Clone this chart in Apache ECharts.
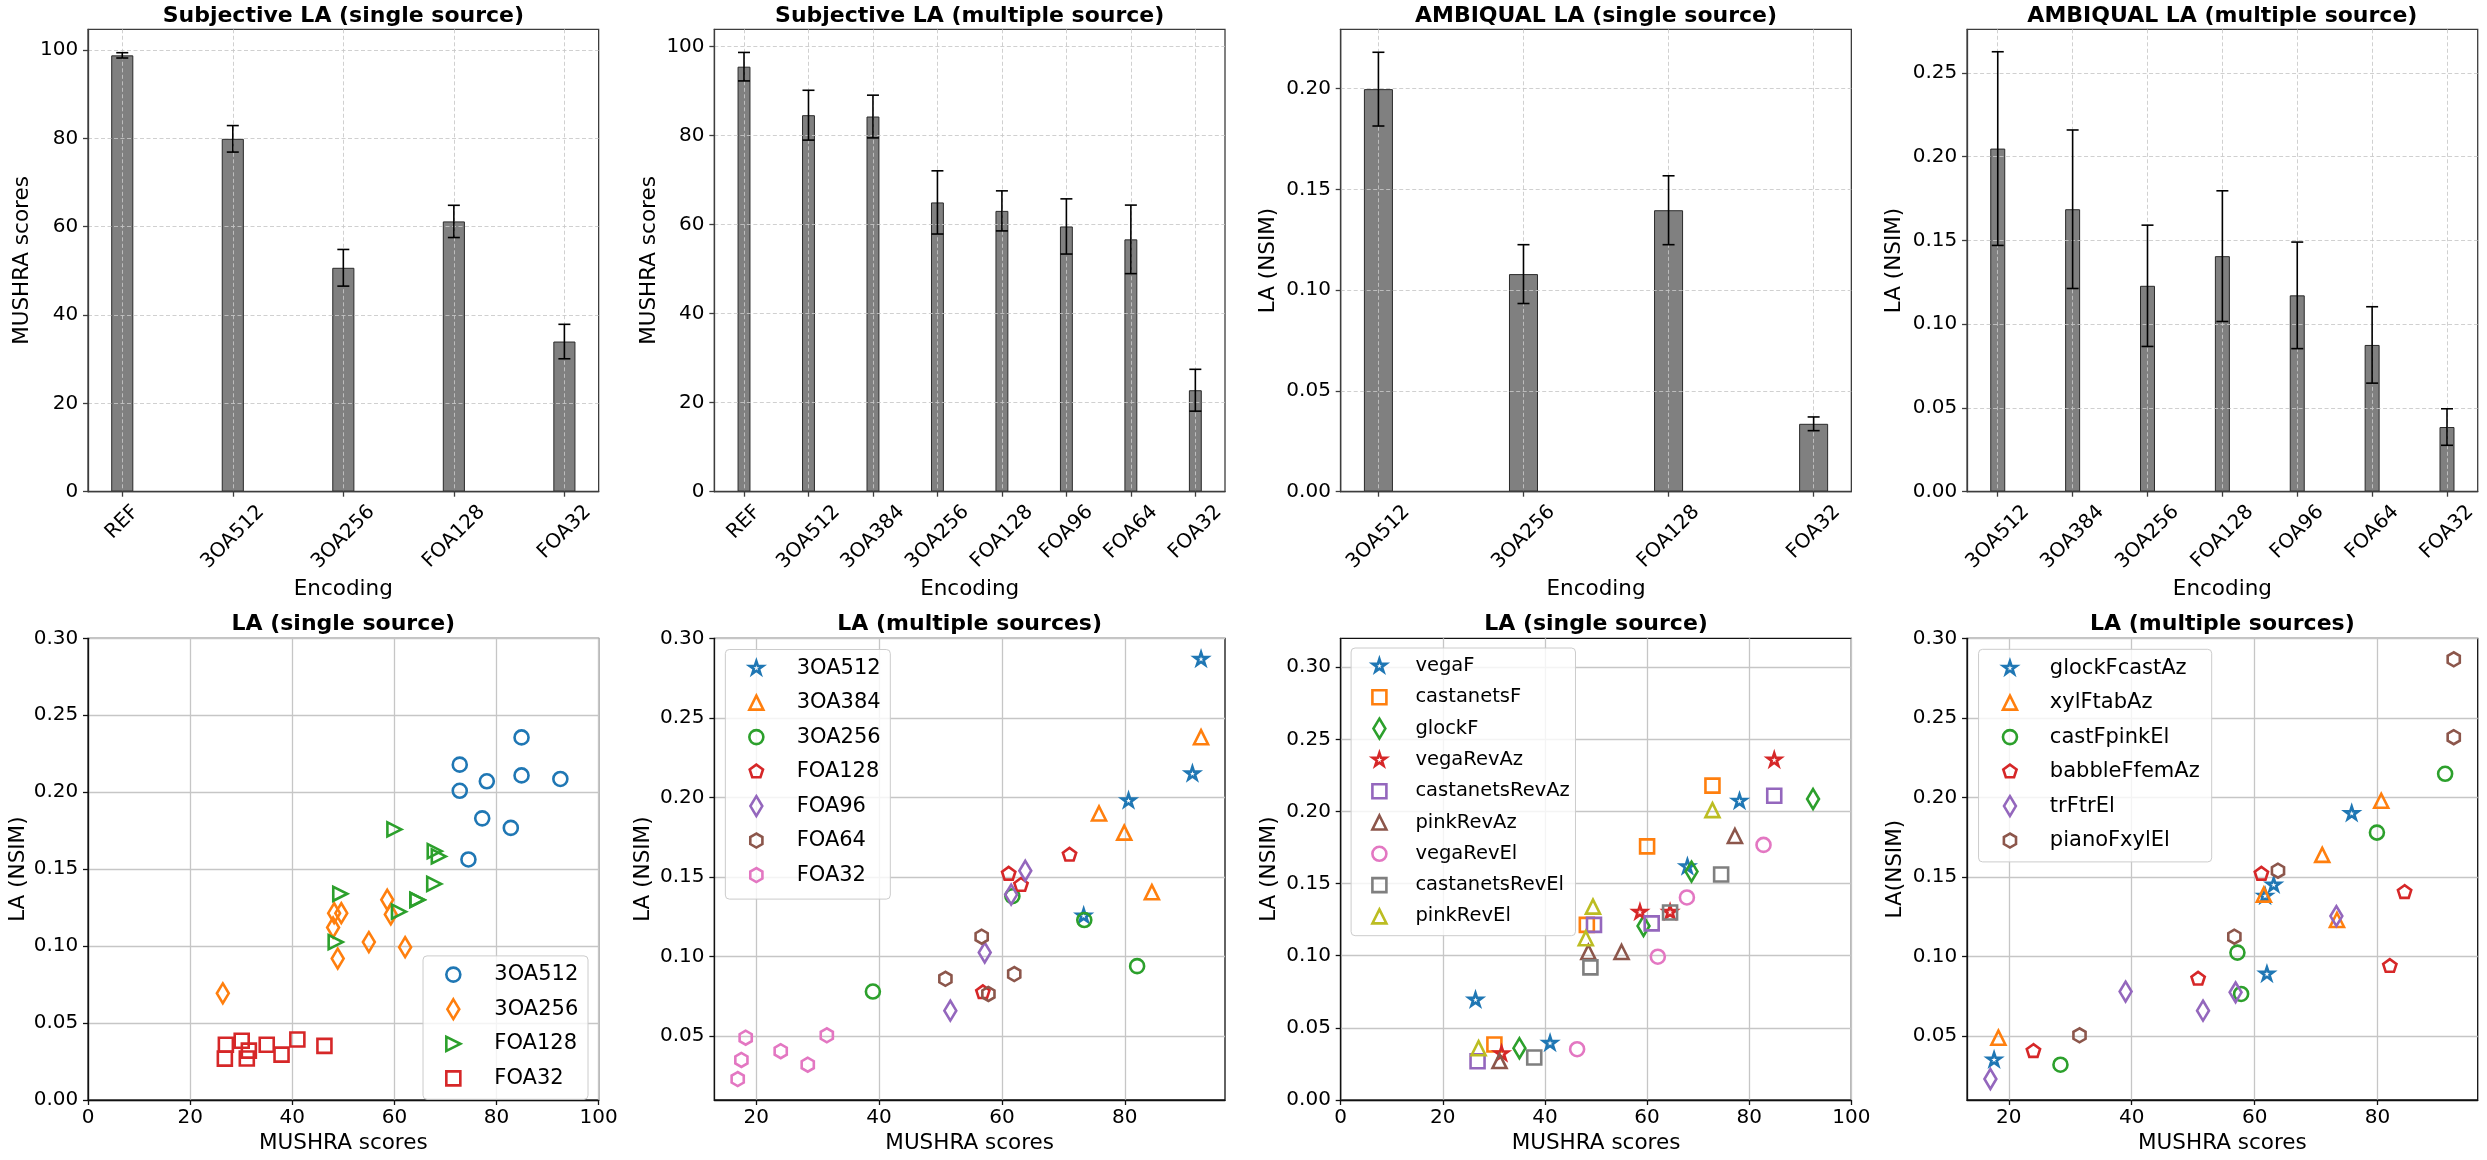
<!DOCTYPE html>
<html><head><meta charset="utf-8">
<script src="https://cdn.jsdelivr.net/npm/echarts@6/dist/echarts.min.js"></script>
<style>html,body{margin:0;padding:0;background:#fff}#c{width:2487px;height:1160px}</style>
</head><body><div id="c"></div>
<script>
// ================= DATA =================
// Top row: subjective (MUSHRA) bar charts
const subjSingleCats = ['REF', '3OA512', '3OA256', 'FOA128', 'FOA32'];
const subjSingleMean = [98.8, 79.9, 50.7, 61.2, 34.0];
const subjSingleErr  = [0.6, 3.0, 4.15, 3.65, 3.9];

const subjMultiCats = ['REF', '3OA512', '3OA384', '3OA256', 'FOA128', 'FOA96', 'FOA64', 'FOA32'];
const subjMultiMean = [95.5, 84.6, 84.3, 65.0, 63.1, 59.6, 56.7, 22.8];
const subjMultiErr  = [3.2, 5.6, 4.8, 7.1, 4.5, 6.2, 7.7, 4.7];

// Top row: AMBIQUAL (NSIM) bar charts
const ambSingleCats = ['3OA512', '3OA256', 'FOA128', 'FOA32'];
const ambSingleMean = [0.1998, 0.1080, 0.1397, 0.0337];
const ambSingleErr  = [0.0183, 0.0146, 0.0171, 0.0034];

const ambMultiCats = ['3OA512', '3OA384', '3OA256', 'FOA128', 'FOA96', 'FOA64', 'FOA32'];
const ambMultiMean = [0.2048, 0.1686, 0.1229, 0.1406, 0.1172, 0.0876, 0.0386];
const ambMultiErr  = [0.0578, 0.0473, 0.0362, 0.0390, 0.0318, 0.0228, 0.0109];

// Bottom row: single source scatter (rows = sources, columns = ambSingleCats)
const singleSources = ['vegaF', 'castanetsF', 'glockF', 'vegaRevAz', 'castanetsRevAz', 'pinkRevAz', 'vegaRevEl', 'castanetsRevEl', 'pinkRevEl'];
const singleMushra = [
  [78.1, 26.4, 67.9, 41.0],
  [72.8, 48.2, 60.0, 30.1],
  [92.5, 59.3, 68.7, 35.0],
  [84.9, 58.6, 64.5, 31.5],
  [84.9, 49.6, 60.9, 26.8],
  [77.2, 55.0, 48.5, 31.1],
  [82.8, 62.1, 67.8, 46.3],
  [74.5, 48.9, 64.5, 37.9],
  [72.8, 48.0, 49.4, 27.0]
];
const singleNsim = [
  [0.2071, 0.0693, 0.1617, 0.0393],
  [0.2179, 0.1214, 0.1758, 0.0385],
  [0.2086, 0.1206, 0.1583, 0.0359],
  [0.2356, 0.1301, 0.1301, 0.0321],
  [0.2109, 0.1214, 0.1224, 0.0269],
  [0.1830, 0.1026, 0.1026, 0.0270],
  [0.1768, 0.0993, 0.1404, 0.0352],
  [0.1563, 0.0919, 0.1300, 0.0295],
  [0.2009, 0.1121, 0.1340, 0.0359]
];

// Bottom row: multiple source scatter (rows = sources, columns = ambMultiCats)
const multiSources = ['glockFcastAz', 'xylFtabAz', 'castFpinkEl', 'babbleFfemAz', 'trFtrEl', 'pianoFxylEl'];
const multiMushra = [
  [null, 75.8, 61.7, 63.1, null, 62.0, 17.6],
  [80.6, null, 73.4, 71.0, 61.5, null, 18.3],
  [91.0, 79.9, null, null, 57.2, 57.8, 28.4],
  [null, 84.4, 82.0, 61.1, null, 50.8, 24.0],
  [73.3, null, 39.0, 56.9, 51.6, null, 17.0],
  [92.4, 92.4, null, null, 63.8, 56.7, 31.5]
];
const multiNsim = [
  [null, 0.190, 0.138, 0.145, null, 0.089, 0.035],
  [0.198, null, 0.123, 0.164, 0.139, null, 0.049],
  [0.215, 0.178, null, null, 0.1025, 0.0765, 0.032],
  [null, 0.1405, 0.094, 0.152, null, 0.086, 0.0405],
  [0.1255, null, 0.078, 0.0775, 0.066, null, 0.023],
  [0.287, 0.238, null, null, 0.154, 0.1125, 0.0505]
];

// Tick labels
const ticksMushra = [0, 20, 40, 60, 80, 100];
const ticksNsim20 = [0, 0.05, 0.10, 0.15, 0.20];
const ticksNsim25 = [0, 0.05, 0.10, 0.15, 0.20, 0.25];
const ticksNsim30 = [0, 0.05, 0.10, 0.15, 0.20, 0.25, 0.30];
const ticksNsim30b = [0.05, 0.10, 0.15, 0.20, 0.25, 0.30];
const ticksScore100 = [0, 20, 40, 60, 80, 100];
const ticksScore80 = [20, 40, 60, 80];

// ================= STYLE / LAYOUT =================
const FONT = 'DejaVu Sans';
const TAB = ['#1f77b4', '#ff7f0e', '#2ca02c', '#d62728', '#9467bd', '#8c564b', '#e377c2', '#7f7f7f', '#bcbd22'];
const COLS = [88, 714.35, 1340.7, 1967.05];
const GW = 510.65;
const ROWS = [29.3, 638.3];
const GH = [462.4, 461.7];

// marker paths (common 22px frame so legend icons keep the same scale)
const FR = 'M -11 -11 M 11 11 ';
function polyPath(pts) {
  return FR + pts.map((p, i) => (i ? 'L ' : 'M ') + p[0].toFixed(3) + ' ' + p[1].toFixed(3)).join(' ') + ' Z';
}
function regular(n, r, r2) {
  const k = r2 ? 2 * n : n, pts = [];
  for (let i = 0; i < k; i++) {
    const a = Math.PI / 2 + i * 2 * Math.PI / k;
    const rr = (r2 && i % 2) ? r2 : r;
    pts.push([rr * Math.cos(a), -rr * Math.sin(a)]);
  }
  return polyPath(pts);
}
const R = 7;
const SYM = {
  'o': 'path://' + FR + `M ${R} 0 A ${R} ${R} 0 1 1 ${-R} 0 A ${R} ${R} 0 1 1 ${R} 0 Z`,
  's': 'path://' + polyPath([[-R, -R], [R, -R], [R, R], [-R, R]]),
  'd': 'path://' + polyPath([[0, -R * 1.414], [R * 0.849, 0], [0, R * 1.414], [-R * 0.849, 0]]),
  '^': 'path://' + polyPath([[0, -R], [R, R], [-R, R]]),
  '>': 'path://' + polyPath([[R, 0], [-R, R], [-R, -R]]),
  '*': 'path://' + regular(5, R, R * 0.381966),
  'p': 'path://' + regular(5, R),
  'h': 'path://' + regular(6, R)
};

const mctx = document.createElement('canvas').getContext('2d');
mctx.font = '20px "DejaVu Sans"';

const grids = [], xAxes = [], yAxes = [], series = [], titles = [], legends = [];

function addGrid(col, row) {
  const gi = grids.length;
  grids.push({left: COLS[col], top: ROWS[row], width: GW, height: GH[row], show: true,
    borderColor: row ? '#111' : '#3d3d3d', borderWidth: 1.3, backgroundColor: 'rgba(0,0,0,0)',
    containLabel: false, outerBoundsMode: 'none'});
  return gi;
}
function addTitle(col, row, text) {
  titles.push({text: text, left: COLS[col] + GW / 2, top: row ? 613.4 : 5.7, textAlign: 'center', padding: 0,
    textStyle: {fontSize: 22, fontWeight: 'bold', fontFamily: FONT, color: '#000'}});
}
const nameStyle = {fontSize: 21.5, fontFamily: FONT, color: '#000'};
const tickLbl = {fontSize: 20, fontFamily: FONT, color: '#000'};

function barPanel(col, cats, means, errs, xMin, xMax, yMax, yTicks, yDec, title, yName, yGap) {
  const gi = addGrid(col, 0);
  addTitle(col, 0, title);
  const frame = '#3d3d3d';
  const idx = cats.map((c, i) => i);
  const dash = {show: true, lineStyle: {color: 'rgba(200,200,200,0.85)', width: 1, type: [4, 2.5]}};
  xAxes.push({type: 'value', gridIndex: gi, min: xMin, max: xMax, z: 3,
    axisLine: {show: true, onZero: false, lineStyle: {color: frame, width: 1.3}},
    axisTick: {show: true, length: 5, customValues: idx, lineStyle: {color: frame, width: 1.3}},
    axisLabel: {show: false, customValues: idx},
    splitLine: dash,
    name: 'Encoding', nameLocation: 'middle', nameGap: 87, nameTextStyle: nameStyle});
  yAxes.push({type: 'value', gridIndex: gi, min: 0, max: yMax, z: 3,
    axisLine: {show: true, onZero: false, lineStyle: {color: frame, width: 1.3}},
    axisTick: {show: true, length: 5, customValues: yTicks, lineStyle: {color: frame, width: 1.3}},
    axisLabel: Object.assign({customValues: yTicks, margin: 9.8, formatter: v => (+v).toFixed(yDec)}, tickLbl),
    splitLine: dash,
    name: yName, nameLocation: 'middle', nameGap: yGap, nameTextStyle: nameStyle});
  const bw = 0.2 * GW / (xMax - xMin);
  series.push({type: 'bar', name: 'bars' + gi, xAxisIndex: gi, yAxisIndex: gi, barWidth: bw, silent: true,
    data: means.map((v, i) => [i, v]),
    itemStyle: {color: '#808080', borderColor: '#2a2a2a', borderWidth: 1}, z: 2});
  series.push({type: 'custom', name: 'err' + gi, xAxisIndex: gi, yAxisIndex: gi, silent: true, z: 4,
    data: means.map((v, i) => [i, v - errs[i], v + errs[i]]),
    encode: {x: 0, y: [1, 2]},
    renderItem: function (params, api) {
      const x = api.value(0);
      const lo = api.coord([x, api.value(1)]), hi = api.coord([x, api.value(2)]);
      const c = 6, st = {stroke: '#000', lineWidth: 1.6};
      return {type: 'group', children: [
        {type: 'line', shape: {x1: lo[0], y1: lo[1], x2: hi[0], y2: hi[1]}, style: st},
        {type: 'line', shape: {x1: lo[0] - c, y1: lo[1], x2: lo[0] + c, y2: lo[1]}, style: st},
        {type: 'line', shape: {x1: hi[0] - c, y1: hi[1], x2: hi[0] + c, y2: hi[1]}, style: st}
      ]};
    }});
  // rotated category labels (matplotlib style: rotated bbox centred under the tick)
  series.push({type: 'custom', name: 'lbl' + gi, xAxisIndex: gi, yAxisIndex: gi, silent: true, clip: false, z: 5,
    data: cats.map((c, i) => [i, 0]),
    encode: {x: 0, y: 1},
    renderItem: function (params, api) {
      const i = api.value(0);
      const p = api.coord([i, 0]);
      const t = cats[i];
      const w = mctx.measureText(t).width;
      return {type: 'text', x: p[0], y: p[1] + 12 + (w + 14.6) * 0.3536, rotation: Math.PI / 4,
        style: {text: t, fontSize: 20, fontFamily: FONT, fill: '#000', align: 'center', verticalAlign: 'middle'}};
    }});
}

function scatterPanel(col, xMin, xMax, yMin, yMax, xTicks, yTicks, title, yName, yGap) {
  const gi = addGrid(col, 1);
  addTitle(col, 1, title);
  const solid = {show: true, lineStyle: {color: '#c6c6c6', width: 1.3}};
  xAxes.push({type: 'value', gridIndex: gi, min: xMin, max: xMax,
    axisLine: {show: true, onZero: false, lineStyle: {color: '#111', width: 1.3}},
    axisTick: {show: true, length: 5, customValues: xTicks, lineStyle: {color: '#111', width: 1.3}},
    axisLabel: Object.assign({customValues: xTicks, margin: 7.7, formatter: v => String(Math.round(v))}, tickLbl),
    splitLine: solid,
    name: 'MUSHRA scores', nameLocation: 'middle', nameGap: 32, nameTextStyle: nameStyle});
  yAxes.push({type: 'value', gridIndex: gi, min: yMin, max: yMax,
    axisLine: {show: true, onZero: false, lineStyle: {color: '#111', width: 1.3}},
    axisTick: {show: true, length: 5, customValues: yTicks, lineStyle: {color: '#111', width: 1.3}},
    axisLabel: Object.assign({customValues: yTicks, margin: 9.8, formatter: v => (+v).toFixed(2)}, tickLbl),
    splitLine: solid,
    name: yName, nameLocation: 'middle', nameGap: yGap, nameTextStyle: nameStyle});
  return gi;
}
function addScatter(gi, name, pts, sym, color) {
  series.push({type: 'scatter', name: name, xAxisIndex: gi, yAxisIndex: gi, data: pts,
    symbol: SYM[sym], symbolSize: 22, symbolKeepAspect: true, silent: true, z: 3,
    emphasis: {disabled: true},
    itemStyle: {color: 'rgba(0,0,0,0)', borderColor: color, borderWidth: 2.6, opacity: 1}});
}
function addLegend(names, pos, fontSize, pad, textPad, gap) {
  legends.push(Object.assign({
    orient: 'vertical', data: names, itemWidth: 22, itemHeight: 22, itemGap: gap, padding: pad,
    backgroundColor: 'rgba(255,255,255,0.8)', borderColor: '#cccccc', borderWidth: 1, borderRadius: 4,
    selectedMode: false,
    itemStyle: {borderWidth: 2.6},
    formatter: n => n.split('|')[0],
    textStyle: {fontSize: fontSize, fontFamily: FONT, color: '#000', lineHeight: 22, padding: [0, 0, 0, textPad]}
  }, pos));
}

// ---- top row ----
barPanel(0, subjSingleCats, subjSingleMean, subjSingleErr, -0.31, 4.31, 104.7, ticksMushra, 0,
  'Subjective LA (single source)', 'MUSHRA scores', 55);
barPanel(1, subjMultiCats, subjMultiMean, subjMultiErr, -0.46, 7.46, 103.9, ticksMushra, 0,
  'Subjective LA (multiple source)', 'MUSHRA scores', 54);
barPanel(2, ambSingleCats, ambSingleMean, ambSingleErr, -0.26, 3.26, 0.2295, ticksNsim20, 2,
  'AMBIQUAL LA (single source)', 'LA (NSIM)', 61);
barPanel(3, ambMultiCats, ambMultiMean, ambMultiErr, -0.41, 6.41, 0.276, ticksNsim25, 2,
  'AMBIQUAL LA (multiple source)', 'LA (NSIM)', 61.5);

// ---- bottom row ----
// panel 5: single source grouped by encoding
const g5 = scatterPanel(0, 0, 100, 0, 0.30, ticksScore100, ticksNsim30, 'LA (single source)', 'LA (NSIM)', 59);
const enc5Sym = ['o', 'd', '>', 's'];
const names5 = [];
ambSingleCats.forEach((enc, j) => {
  const nm = enc + '|s';
  names5.push(nm);
  addScatter(g5, nm, singleSources.map((s, i) => [singleMushra[i][j], singleNsim[i][j]]), enc5Sym[j], TAB[j]);
});
addLegend(names5, {right: 2487 - (COLS[0] + 500), top: ROWS[1] + 317.6}, 21, [6.4, 9.7, 8.6, 18], 25, 10);

// panel 6: multiple sources grouped by encoding
const g6 = scatterPanel(1, 13.2, 96.3, 0.0098, 0.3002, ticksScore80, ticksNsim30b, 'LA (multiple sources)', 'LA (NSIM)', 60);
const enc6Sym = ['*', '^', 'o', 'p', 'd', 'h', 'h'];
const names6 = [];
ambMultiCats.forEach((enc, j) => {
  const nm = enc + '|m';
  names6.push(nm);
  const pts = [];
  multiSources.forEach((s, i) => { if (multiMushra[i][j] != null) pts.push([multiMushra[i][j], multiNsim[i][j]]); });
  addScatter(g6, nm, pts, enc6Sym[j], TAB[j]);
});
addLegend(names6, {left: COLS[1] + 11, top: ROWS[1] + 11.2}, 21, [6.3, 9.7, 11.7, 18.7], 24.3, 9.9);

// panel 7: single source grouped by source
const g7 = scatterPanel(2, 0, 100, 0, 0.32, ticksScore100, ticksNsim30, 'LA (single source)', 'LA (NSIM)', 60);
const src7Sym = ['*', 's', 'd', '*', 's', '^', 'o', 's', '^'];
singleSources.forEach((s, i) => {
  addScatter(g7, s, ambSingleCats.map((e, j) => [singleMushra[i][j], singleNsim[i][j]]), src7Sym[i], TAB[i]);
});
addLegend(singleSources.slice(), {left: COLS[2] + 10.4, top: ROWS[1] + 9.7}, 19.5, [5.7, 5.7, 7, 16], 20, 6.7);

// panel 8: multiple sources grouped by source
const g8 = scatterPanel(3, 13.2, 96.3, 0.0098, 0.3002, ticksScore80, ticksNsim30b, 'LA (multiple sources)', 'LA(NSIM)', 61);
const src8Sym = ['*', '^', 'o', 'p', 'd', 'h'];
multiSources.forEach((s, i) => {
  const pts = [];
  ambMultiCats.forEach((e, j) => { if (multiMushra[i][j] != null) pts.push([multiMushra[i][j], multiNsim[i][j]]); });
  addScatter(g8, s, pts, src8Sym[i], TAB[i]);
});
addLegend(multiSources.slice(), {left: COLS[3] + 11.5, top: ROWS[1] + 11}, 21, [6.5, 12, 9, 19.1], 23.9, 9.9);

const chart = echarts.init(document.getElementById('c'), null, {renderer: 'canvas', width: 2487, height: 1160});
chart.setOption({
  backgroundColor: '#ffffff',
  animation: false,
  textStyle: {fontFamily: FONT},
  title: titles,
  grid: grids,
  xAxis: xAxes,
  yAxis: yAxes,
  legend: legends,
  series: series
});
</script>
</body></html>
